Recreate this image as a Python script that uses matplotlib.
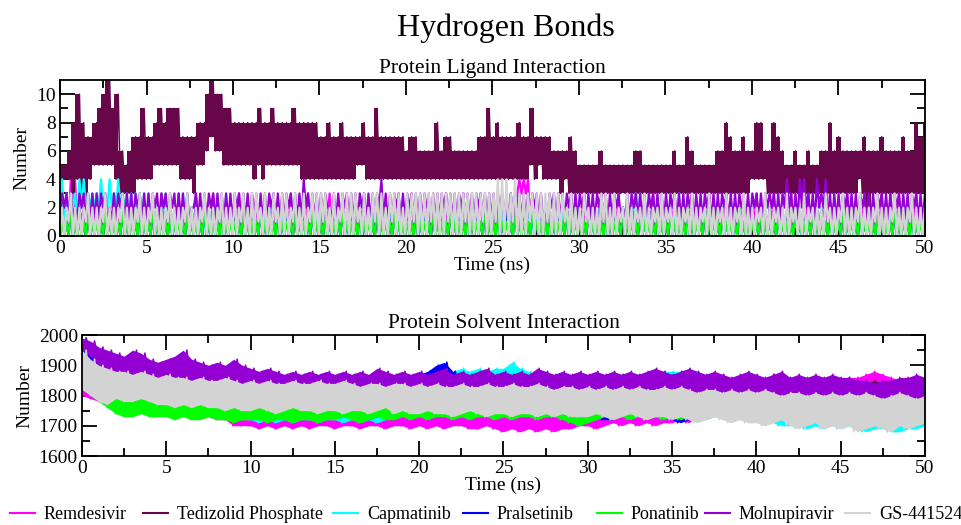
import numpy as np
import matplotlib.pyplot as plt
from matplotlib.lines import Line2D

plt.rcParams['font.family'] = ['Liberation Serif', 'DejaVu Serif']

# -----------------------------
# Datos
# -----------------------------
names = ["Remdesivir", "Tedizolid Phosphate", "Capmatinib", "Pralsetinib",
         "Ponatinib", "Molnupiravir", "GS-441524"]
colors = ["#ff00ff", "#67074a", "#00ffff", "#0000ff", "#00ff00", "#9400d3", "#d3d3d3"]

# Protein-ligand H bonds: low / high count seen in each 0.25 ns slice
# (one hex digit per slice, a=10, b=11)
hb_remdesivir_lo = ("01110100010001000100" "10001000100010001000" "01000100010001000100"
                    "00100010001000100010" "01000100010001000100" "00100133310001000100"
                    "01000100010001000100" "00100010001000100010" "01000100010001000100"
                    "00100010001000100010" "0")
hb_remdesivir_hi = ("23442222322232223222" "22232223222322232222" "23222322232223222322"
                    "22322232223222322232" "23222322232223222322" "22223244432222222222"
                    "23222322232223222322" "22322232223222322232" "23222322232223222322"
                    "22322232223232322232" "2")
hb_tedizolid_lo = ("44434324555554333344" "44555555444355676655" "55555454555555554444"
                   "44444444455444444444" "44444444444444444444" "44444444454544443433"
                   "33333333333333333333" "33333333333333333333" "44443333333333333333"
                   "33333432333333333333" "3")
hb_tedizolid_hi = ("5568a87789ab9a656779" "77898999777788abaa99" "88888898898888988888"
                   "77877877778779777777" "67766668677666666779" "78777787797777666676"
                   "55555655555556655555" "55655765555566876676" "68866876556556556686"
                   "76666676667666676687" "8")
hb_capmatinib_lo = ("11121222222222221111" "01000100010001000100" "00100010001000100010"
                    "01000100010001000100" "00100010001000100010" "01000100010001000100"
                    "00100010001000100010" "01000100010001000100" "00100010001000100010"
                    "01000100010001000100" "0")
hb_capmatinib_hi = ("43334433343434333333" "32223222332221222232" "21222122212221222122"
                    "22122212221222122212" "21222122212221222122" "22223322212221222122"
                    "21222122212223322212" "22232212221222122212" "21222122212221222122"
                    "22122212221222122212" "2")
hb_pralsetinib_lo = ("00000000000000000000" "00000000000000000000" "00000000000000000000"
                     "00000000000000000000" "00000000000000000000" "00000000000000000000"
                     "00000000000000000000" "00000000000000000000" "00000000000000000000"
                     "00000000000000000000" "0")
hb_pralsetinib_hi = ("21212121212121212121" "12121212121212121212" "21212121212121212121"
                     "12121212121212121212" "21212121212121212121" "12121212121212121212"
                     "21212121212121212121" "12121212121212121212" "21212121212121212121"
                     "12121212121212121212" "2")
hb_ponatinib_lo = ("00000000000000000000" "00000000000000000000" "00000000000000000000"
                   "00000000000000000000" "00000000000000000000" "00000000000000000000"
                   "00000000000000000000" "00000000000000000000" "00000000000000000000"
                   "00000000000000000000" "0")
hb_ponatinib_hi = ("11211121112111211121" "12111211121112111211" "11211121112111211121"
                   "12111211121112111211" "11211121112111211121" "12111211121112111211"
                   "11211121112111211121" "12111211121112111211" "11211121112111211121"
                   "12111211121112111211" "1")
hb_molnupiravir_lo = ("12111211112111211121" "11212121111211121111" "12111211121112111211"
                      "11211121112111211121" "12111211121112111211" "11211121112111211121"
                      "12111211121112111211" "11211121112111211121" "12112211221122112211"
                      "11211121112111211121" "1")
hb_molnupiravir_hi = ("33323333333233333333" "33333333332333333333" "33333233333333334333"
                      "33233333333333433333" "33333233333333333333" "33333333333323333333"
                      "33333333332333333333" "33333333333333333323" "33333333433443343433"
                      "33333333333333333333" "3")
hb_gs441524_lo = ("00100010001000100010" "01000100010001000100" "00100010001000100010"
                  "01000100010001000100" "00100010001000100010" "01000100010001000100"
                  "00100010001000100010" "01000100010001000100" "00100010001000100010"
                  "01000100010001000100" "0")
hb_gs441524_hi = ("22322232223222322232" "23222322232223222322" "32323323232332323233"
                  "33232333323233323332" "33333333333333333333" "34443433333333333232"
                  "23222332322322232223" "22322232223222322232" "22232222322232222322"
                  "23222322232223222322" "2")

# Protein-solvent H bonds: low / high value seen in each 0.5 ns slice
sol_remdesivir_lo = [1800, 1790, 1780, 1780, 1770, 1770, 1760, 1760, 1750, 1750,
                     1750, 1740, 1740, 1730, 1730, 1730, 1720, 1720, 1700, 1700,
                     1700, 1690, 1700, 1690, 1700, 1690, 1700, 1690, 1700, 1700,
                     1690, 1700, 1700, 1690, 1700, 1700, 1690, 1700, 1700, 1690,
                     1700, 1690, 1700, 1690, 1700, 1700, 1690, 1690, 1700, 1690,
                     1680, 1690, 1680, 1690, 1680, 1690, 1680, 1690, 1690, 1700,
                     1700, 1690, 1700, 1710, 1700, 1710, 1700, 1710, 1700, 1710,
                     1710, 1720, 1710, 1730, 1740, 1740, 1750, 1750, 1760, 1770,
                     1770, 1780, 1780, 1790, 1790, 1800, 1800, 1810, 1810, 1800,
                     1810, 1820, 1820, 1830, 1830, 1820, 1810, 1800, 1790, 1790, 1790]
sol_remdesivir_hi = [1860, 1850, 1840, 1830, 1830, 1820, 1820, 1810, 1810, 1800,
                     1800, 1790, 1790, 1780, 1780, 1770, 1770, 1760, 1750, 1750,
                     1740, 1740, 1750, 1740, 1740, 1730, 1740, 1740, 1730, 1740,
                     1740, 1730, 1740, 1740, 1730, 1740, 1740, 1730, 1740, 1740,
                     1740, 1730, 1740, 1740, 1730, 1740, 1740, 1730, 1740, 1730,
                     1730, 1740, 1730, 1740, 1730, 1730, 1740, 1730, 1740, 1750,
                     1750, 1740, 1750, 1760, 1750, 1760, 1750, 1760, 1750, 1760,
                     1760, 1770, 1770, 1780, 1790, 1790, 1800, 1800, 1810, 1810,
                     1820, 1820, 1830, 1830, 1840, 1840, 1840, 1850, 1850, 1840,
                     1850, 1860, 1860, 1870, 1880, 1870, 1860, 1850, 1840, 1840, 1840]
sol_tedizolid_lo = [1900, 1870, 1850, 1830, 1820, 1810, 1800, 1800, 1790, 1790,
                    1790, 1780, 1790, 1780, 1790, 1780, 1790, 1780, 1790, 1780,
                    1780, 1790, 1780, 1790, 1780, 1790, 1780, 1790, 1780, 1790,
                    1790, 1780, 1790, 1780, 1760, 1780, 1790, 1780, 1790, 1780,
                    1780, 1790, 1780, 1750, 1780, 1790, 1780, 1790, 1780, 1790,
                    1790, 1780, 1790, 1780, 1790, 1780, 1790, 1780, 1790, 1780,
                    1780, 1790, 1780, 1790, 1780, 1790, 1780, 1790, 1780, 1790,
                    1790, 1780, 1790, 1780, 1790, 1780, 1790, 1780, 1790, 1780,
                    1780, 1790, 1780, 1790, 1780, 1790, 1780, 1790, 1780, 1790,
                    1790, 1780, 1790, 1780, 1790, 1780, 1790, 1780, 1790, 1780, 1790]
sol_tedizolid_hi = [1950, 1920, 1900, 1880, 1870, 1860, 1860, 1850, 1850, 1850,
                    1850, 1860, 1850, 1840, 1850, 1860, 1850, 1840, 1850, 1860,
                    1850, 1840, 1850, 1860, 1850, 1840, 1850, 1860, 1850, 1840,
                    1850, 1860, 1850, 1840, 1850, 1860, 1850, 1840, 1850, 1860,
                    1850, 1840, 1850, 1860, 1850, 1840, 1850, 1860, 1850, 1840,
                    1850, 1860, 1850, 1840, 1850, 1860, 1850, 1840, 1850, 1860,
                    1850, 1840, 1850, 1860, 1850, 1840, 1850, 1860, 1850, 1840,
                    1850, 1860, 1850, 1840, 1850, 1860, 1850, 1840, 1850, 1860,
                    1850, 1840, 1850, 1860, 1850, 1840, 1850, 1860, 1850, 1840,
                    1850, 1840, 1830, 1840, 1850, 1840, 1830, 1840, 1850, 1840, 1850]
sol_capmatinib_lo = [1880, 1860, 1830, 1810, 1800, 1790, 1790, 1780, 1780, 1770,
                     1770, 1760, 1760, 1750, 1740, 1740, 1730, 1730, 1720, 1720,
                     1720, 1710, 1720, 1710, 1720, 1710, 1720, 1720, 1710, 1720,
                     1720, 1710, 1720, 1710, 1720, 1710, 1720, 1730, 1750, 1780,
                     1800, 1810, 1820, 1830, 1830, 1840, 1840, 1830, 1840, 1840,
                     1840, 1850, 1830, 1820, 1820, 1810, 1810, 1810, 1800, 1800,
                     1800, 1810, 1810, 1820, 1820, 1820, 1830, 1820, 1830, 1830,
                     1840, 1840, 1830, 1800, 1780, 1760, 1750, 1740, 1740, 1730,
                     1720, 1720, 1710, 1700, 1700, 1700, 1690, 1700, 1690, 1700,
                     1690, 1700, 1690, 1680, 1690, 1690, 1680, 1680, 1690, 1690, 1700]
sol_capmatinib_hi = [1960, 1930, 1900, 1870, 1850, 1840, 1830, 1830, 1820, 1820,
                     1810, 1810, 1800, 1800, 1790, 1780, 1770, 1770, 1770, 1760,
                     1760, 1760, 1750, 1760, 1750, 1760, 1750, 1760, 1750, 1760,
                     1760, 1750, 1760, 1750, 1760, 1760, 1760, 1780, 1800, 1830,
                     1850, 1860, 1870, 1880, 1880, 1890, 1880, 1890, 1880, 1890,
                     1890, 1910, 1890, 1880, 1870, 1870, 1860, 1860, 1860, 1850,
                     1850, 1860, 1860, 1860, 1870, 1870, 1870, 1870, 1880, 1880,
                     1880, 1880, 1870, 1850, 1830, 1810, 1800, 1790, 1790, 1780,
                     1770, 1770, 1760, 1750, 1750, 1750, 1740, 1750, 1740, 1750,
                     1740, 1750, 1740, 1740, 1740, 1740, 1730, 1730, 1740, 1740, 1740]
sol_pralsetinib_lo = [1940, 1900, 1880, 1860, 1840, 1830, 1820, 1820, 1830, 1830,
                      1820, 1810, 1800, 1790, 1780, 1770, 1760, 1750, 1740, 1750,
                      1760, 1770, 1760, 1750, 1740, 1750, 1740, 1730, 1720, 1740,
                      1750, 1740, 1750, 1730, 1720, 1730, 1750, 1770, 1790, 1800,
                      1810, 1820, 1830, 1840, 1830, 1810, 1790, 1770, 1760, 1770,
                      1790, 1800, 1790, 1770, 1780, 1810, 1800, 1780, 1750, 1740,
                      1750, 1730, 1720, 1720, 1740, 1760, 1780, 1790, 1770, 1740,
                      1720, 1710, 1720, 1740, 1770, 1790, 1800, 1780, 1760, 1750,
                      1770, 1800, 1820, 1820, 1790, 1770, 1760, 1780, 1790, 1770,
                      1760, 1780, 1790, 1770, 1750, 1770, 1790, 1770, 1790, 1810, 1800]
sol_pralsetinib_hi = [1990, 1960, 1930, 1910, 1890, 1880, 1870, 1860, 1880, 1880,
                      1870, 1860, 1840, 1830, 1820, 1810, 1800, 1790, 1780, 1790,
                      1800, 1810, 1800, 1790, 1780, 1790, 1780, 1770, 1760, 1780,
                      1790, 1780, 1790, 1770, 1760, 1770, 1800, 1830, 1860, 1860,
                      1870, 1880, 1900, 1910, 1880, 1860, 1840, 1820, 1810, 1820,
                      1840, 1860, 1850, 1820, 1830, 1870, 1860, 1830, 1800, 1780,
                      1790, 1770, 1760, 1760, 1780, 1800, 1830, 1850, 1820, 1790,
                      1760, 1750, 1760, 1790, 1820, 1840, 1860, 1830, 1810, 1790,
                      1820, 1850, 1870, 1860, 1830, 1810, 1800, 1830, 1840, 1810,
                      1800, 1830, 1840, 1810, 1790, 1820, 1840, 1810, 1840, 1860, 1850]
sol_ponatinib_lo = [1830, 1800, 1780, 1760, 1740, 1730, 1730, 1740, 1730, 1730,
                    1730, 1720, 1730, 1720, 1720, 1730, 1720, 1720, 1710, 1720,
                    1720, 1720, 1710, 1720, 1720, 1710, 1720, 1720, 1710, 1720,
                    1720, 1730, 1720, 1710, 1720, 1730, 1720, 1720, 1730, 1720,
                    1730, 1720, 1730, 1730, 1720, 1730, 1720, 1730, 1730, 1720,
                    1730, 1720, 1730, 1730, 1720, 1730, 1730, 1720, 1710, 1700,
                    1710, 1720, 1730, 1720, 1730, 1720, 1730, 1720, 1730, 1720,
                    1730, 1720, 1730, 1730, 1720, 1730, 1740, 1730, 1740, 1750,
                    1740, 1750, 1750, 1760, 1760, 1770, 1770, 1780, 1780, 1780,
                    1790, 1790, 1780, 1790, 1780, 1790, 1780, 1780, 1770, 1760, 1780]
sol_ponatinib_hi = [1880, 1860, 1840, 1810, 1790, 1780, 1780, 1790, 1780, 1790,
                    1780, 1770, 1780, 1770, 1770, 1780, 1770, 1780, 1760, 1770,
                    1770, 1770, 1760, 1770, 1770, 1760, 1770, 1780, 1770, 1770,
                    1770, 1780, 1770, 1760, 1780, 1790, 1770, 1780, 1790, 1770,
                    1780, 1770, 1780, 1790, 1780, 1790, 1770, 1780, 1790, 1780,
                    1790, 1780, 1780, 1790, 1780, 1790, 1780, 1770, 1760, 1760,
                    1770, 1780, 1790, 1780, 1790, 1780, 1790, 1780, 1790, 1780,
                    1790, 1780, 1790, 1800, 1790, 1800, 1810, 1800, 1810, 1820,
                    1810, 1820, 1820, 1830, 1830, 1840, 1840, 1840, 1840, 1830,
                    1840, 1840, 1830, 1840, 1830, 1840, 1830, 1830, 1820, 1820, 1830]
sol_molnupiravir_lo = [1950, 1930, 1900, 1880, 1880, 1870, 1850, 1840, 1850, 1840,
                       1850, 1840, 1850, 1840, 1830, 1840, 1830, 1830, 1820, 1830,
                       1820, 1830, 1810, 1820, 1820, 1810, 1820, 1820, 1810, 1820,
                       1810, 1820, 1810, 1810, 1820, 1800, 1810, 1820, 1810, 1800,
                       1810, 1820, 1810, 1800, 1810, 1820, 1810, 1800, 1810, 1800,
                       1810, 1800, 1810, 1800, 1790, 1800, 1810, 1800, 1790, 1800,
                       1800, 1790, 1800, 1810, 1800, 1790, 1800, 1800, 1790, 1800,
                       1800, 1810, 1800, 1790, 1800, 1790, 1780, 1790, 1800, 1790,
                       1790, 1800, 1790, 1780, 1790, 1800, 1780, 1790, 1780, 1790,
                       1780, 1790, 1780, 1790, 1780, 1770, 1780, 1790, 1780, 1790, 1790]
sol_molnupiravir_hi = [1990, 1980, 1960, 1950, 1940, 1930, 1950, 1940, 1920, 1910,
                       1920, 1930, 1950, 1920, 1910, 1900, 1910, 1900, 1920, 1900,
                       1890, 1880, 1890, 1880, 1870, 1880, 1870, 1880, 1870, 1880,
                       1870, 1880, 1870, 1880, 1870, 1890, 1880, 1870, 1880, 1870,
                       1880, 1870, 1880, 1890, 1870, 1880, 1870, 1880, 1890, 1870,
                       1880, 1870, 1880, 1870, 1890, 1880, 1870, 1880, 1870, 1880,
                       1870, 1880, 1870, 1880, 1870, 1880, 1870, 1880, 1890, 1880,
                       1870, 1880, 1890, 1880, 1870, 1880, 1870, 1860, 1870, 1880,
                       1870, 1860, 1870, 1880, 1860, 1870, 1860, 1870, 1860, 1870,
                       1860, 1860, 1850, 1850, 1840, 1850, 1850, 1860, 1860, 1870, 1860]
sol_gs441524_lo = [1820, 1800, 1780, 1770, 1790, 1780, 1780, 1790, 1780, 1770,
                   1770, 1760, 1770, 1760, 1770, 1760, 1760, 1750, 1760, 1750,
                   1750, 1760, 1750, 1740, 1750, 1760, 1750, 1750, 1740, 1750,
                   1750, 1740, 1750, 1750, 1740, 1750, 1760, 1740, 1750, 1740,
                   1740, 1750, 1740, 1740, 1730, 1740, 1750, 1740, 1730, 1740,
                   1740, 1730, 1740, 1740, 1730, 1740, 1730, 1740, 1730, 1730,
                   1730, 1740, 1730, 1720, 1730, 1740, 1730, 1720, 1730, 1730,
                   1720, 1730, 1720, 1710, 1720, 1730, 1720, 1710, 1720, 1710,
                   1710, 1700, 1710, 1720, 1700, 1690, 1700, 1710, 1690, 1700,
                   1690, 1700, 1680, 1690, 1700, 1690, 1680, 1700, 1690, 1700, 1710]
sol_gs441524_hi = [1950, 1920, 1900, 1890, 1880, 1880, 1870, 1880, 1870, 1860,
                   1870, 1860, 1860, 1850, 1860, 1850, 1850, 1860, 1850, 1840,
                   1850, 1840, 1850, 1840, 1840, 1850, 1840, 1840, 1850, 1840,
                   1840, 1850, 1840, 1830, 1840, 1840, 1830, 1840, 1840, 1830,
                   1840, 1830, 1840, 1830, 1830, 1840, 1830, 1830, 1840, 1830,
                   1830, 1840, 1830, 1830, 1840, 1830, 1820, 1830, 1830, 1820,
                   1830, 1820, 1830, 1820, 1830, 1820, 1830, 1820, 1820, 1830,
                   1820, 1830, 1820, 1810, 1820, 1820, 1810, 1820, 1810, 1820,
                   1810, 1820, 1810, 1800, 1810, 1810, 1800, 1810, 1800, 1810,
                   1800, 1810, 1800, 1810, 1800, 1790, 1800, 1810, 1800, 1790, 1800]

hb_lo = [hb_remdesivir_lo, hb_tedizolid_lo, hb_capmatinib_lo, hb_pralsetinib_lo,
         hb_ponatinib_lo, hb_molnupiravir_lo, hb_gs441524_lo]
hb_hi = [hb_remdesivir_hi, hb_tedizolid_hi, hb_capmatinib_hi, hb_pralsetinib_hi,
         hb_ponatinib_hi, hb_molnupiravir_hi, hb_gs441524_hi]
sol_lo = [sol_remdesivir_lo, sol_tedizolid_lo, sol_capmatinib_lo, sol_pralsetinib_lo,
          sol_ponatinib_lo, sol_molnupiravir_lo, sol_gs441524_lo]
sol_hi = [sol_remdesivir_hi, sol_tedizolid_hi, sol_capmatinib_hi, sol_pralsetinib_hi,
          sol_ponatinib_hi, sol_molnupiravir_hi, sol_gs441524_hi]


# -----------------------------
# Dibujo
# -----------------------------
def zigzag(lo, hi):
    # la trayectoria oscila entre el mínimo y el máximo de cada tramo
    lo = np.asarray(lo, dtype=float)
    hi = np.asarray(hi, dtype=float)
    y = np.empty(2 * len(lo))
    y[0::2] = lo
    y[1::2] = hi
    t = np.linspace(0, 50, len(y))
    return t, y


def grace_axes(ax, xmajor, xminor, ymajor, yminor):
    ax.set_xticks(xmajor)
    ax.set_xticks(xminor, minor=True)
    ax.set_yticks(ymajor)
    ax.set_yticks(yminor, minor=True)
    ax.tick_params(which="both", direction="in", top=True, right=True,
                   width=1.3, labelsize=14, pad=3)
    ax.tick_params(which="major", length=11)
    ax.tick_params(which="minor", length=5.5)
    for sp in ax.spines.values():
        sp.set_linewidth(1.3)
        sp.set_zorder(20)


fig = plt.figure(figsize=(9.62, 5.25), dpi=100)

ax1 = fig.add_axes([0.0624, 0.5505, 0.899, 0.297])
for i, (lo, hi, c) in enumerate(zip(hb_lo, hb_hi, colors)):
    lo = [int(ch, 16) for ch in lo]
    hi = [int(ch, 16) for ch in hi]
    t, y = zigzag(lo, hi)
    if i == 1:
        # Tedizolid: banda densa
        ts = np.linspace(0, 50, len(lo))
        ax1.fill_between(ts, lo, hi, step="mid", color=c, lw=0, zorder=2 + i)
        ax1.plot(t, y, color=c, lw=1.1, zorder=2 + i)
    else:
        ax1.plot(t, y, color=c, lw=1.6, zorder=2 + i)
ax1.set_xlim(0, 50)
ax1.set_ylim(0, 11)
grace_axes(ax1, np.arange(0, 51, 5), np.arange(2.5, 50, 5),
           np.arange(0, 11, 2), np.arange(1, 11, 2))
ax1.set_xlabel("Time (ns)", fontsize=14, labelpad=0)
ax1.set_ylabel("Number", fontsize=14, labelpad=4)
ax1.set_title("Protein Ligand Interaction", fontsize=15.5, pad=5)

ax2 = fig.add_axes([0.0852, 0.1314, 0.8763, 0.2305])
for i, (lo, hi, c) in enumerate(zip(sol_lo, sol_hi, colors)):
    ts = np.linspace(0, 50, len(lo))
    ax2.fill_between(ts, lo, hi, color=c, lw=0, zorder=2 + i)
    t, y = zigzag(lo, hi)
    ax2.plot(t, y, color=c, lw=1.2, zorder=2 + i)
ax2.set_xlim(0, 50)
ax2.set_ylim(1600, 2000)
grace_axes(ax2, np.arange(0, 51, 5), np.arange(2.5, 50, 5),
           np.arange(1600, 2001, 100), np.arange(1650, 2000, 100))
ax2.set_xlabel("Time (ns)", fontsize=14, labelpad=0)
ax2.set_ylabel("Number", fontsize=14, labelpad=4)
ax2.set_title("Protein Solvent Interaction", fontsize=15.5, pad=5)

fig.text(0.526, 0.947, "Hydrogen Bonds", ha="center", va="center", fontsize=23)

# Leyenda en una fila
leg_x = [10, 143, 333, 463, 597, 705, 845]
W, H = 962.0, 525.0
for x0, name, c in zip(leg_x, names, colors):
    fig.add_artist(Line2D([x0 / W, (x0 + 25) / W], [1 - 513 / H, 1 - 513 / H],
                          color=c, lw=1.5, transform=fig.transFigure))
    fig.text((x0 + 34) / W, 1 - 519 / H, name, ha="left", va="baseline", fontsize=13)

fig.savefig("out.png", dpi=100)
